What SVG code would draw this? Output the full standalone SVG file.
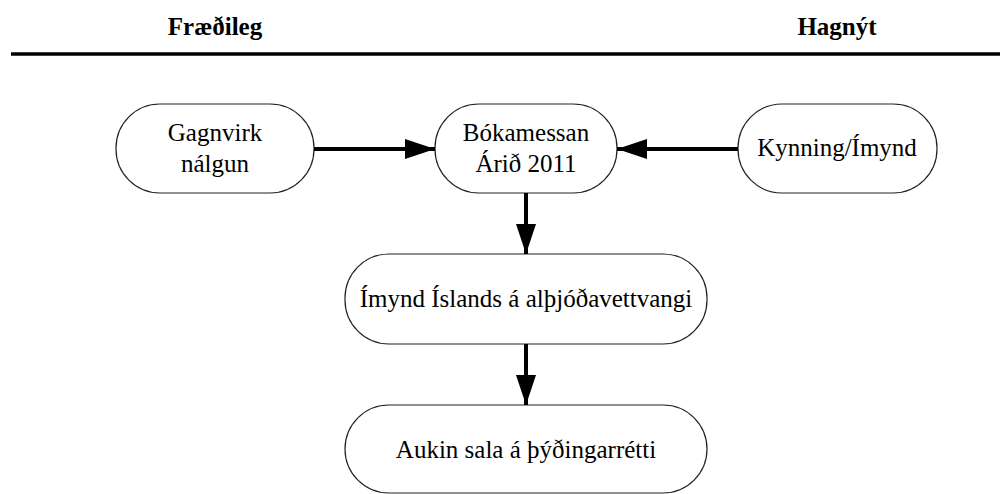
<svg xmlns="http://www.w3.org/2000/svg" width="1000" height="494" viewBox="0 0 1000 494" xml:lang="is">
<defs>
<marker id="ah" viewBox="0 0 30 20" refX="30" refY="10" markerUnits="userSpaceOnUse" markerWidth="30" markerHeight="20" orient="auto">
<path d="M0,0 L30,10 L0,20 Z" fill="#000"/>
</marker>
</defs>
<g id="header">
<text x="215" y="35" font-family="Liberation Serif" font-size="25" font-weight="bold" text-anchor="middle" style="font-family:Liberation Serif,Times New Roman,serif !important">Fræðileg</text>
<text x="837" y="35" font-family="Liberation Serif" font-size="25" font-weight="bold" text-anchor="middle" style="font-family:Liberation Serif,Times New Roman,serif !important">Hagnýt</text>
<line x1="11" y1="54" x2="1000" y2="54" stroke="#000" stroke-width="3.5"/>
</g>
<g id="n1">
<rect x="116" y="104" width="198" height="89" rx="44" ry="44" fill="#fff" stroke="#222" stroke-width="1.2"/>
<text x="215" y="141" font-family="Liberation Serif" font-size="25" text-anchor="middle" style="font-family:Liberation Serif,Times New Roman,serif !important">Gagnvirk</text>
<text x="215" y="172" font-family="Liberation Serif" font-size="25" text-anchor="middle" style="font-family:Liberation Serif,Times New Roman,serif !important">nálgun</text>
</g>
<g id="n2">
<rect x="435" y="104" width="182" height="89" rx="44" ry="44" fill="#fff" stroke="#222" stroke-width="1.2"/>
<text x="526" y="141" font-family="Liberation Serif" font-size="25" text-anchor="middle" style="font-family:Liberation Serif,Times New Roman,serif !important">Bókamessan</text>
<text x="526" y="172" font-family="Liberation Serif" font-size="25" text-anchor="middle" style="font-family:Liberation Serif,Times New Roman,serif !important">Árið 2011</text>
</g>
<g id="n3">
<rect x="738" y="104" width="199" height="89" rx="44" ry="44" fill="#fff" stroke="#222" stroke-width="1.2"/>
<text x="837" y="156" font-family="Liberation Serif" font-size="25" text-anchor="middle" style="font-family:Liberation Serif,Times New Roman,serif !important">Kynning/Ímynd</text>
</g>
<g id="n4">
<rect x="345" y="254" width="362" height="90" rx="44" ry="44" fill="#fff" stroke="#222" stroke-width="1.2"/>
<text x="526" y="307" font-family="Liberation Serif" font-size="25" text-anchor="middle" style="font-family:Liberation Serif,Times New Roman,serif !important">Ímynd Íslands á alþjóðavettvangi</text>
</g>
<g id="n5">
<rect x="345" y="405" width="362" height="88" rx="44" ry="44" fill="#fff" stroke="#222" stroke-width="1.2"/>
<text x="526" y="458" font-family="Liberation Serif" font-size="25" text-anchor="middle" style="font-family:Liberation Serif,Times New Roman,serif !important">Aukin sala á þýðingarrétti</text>
</g>
<g id="connectors" stroke="#000" stroke-width="4">
<line x1="314" y1="149" x2="435" y2="149" marker-end="url(#ah)"/>
<line x1="738" y1="149" x2="617" y2="149" marker-end="url(#ah)"/>
<line x1="526" y1="193" x2="526" y2="254" marker-end="url(#ah)"/>
<line x1="526" y1="344" x2="526" y2="405" marker-end="url(#ah)"/>
</g>
</svg>
